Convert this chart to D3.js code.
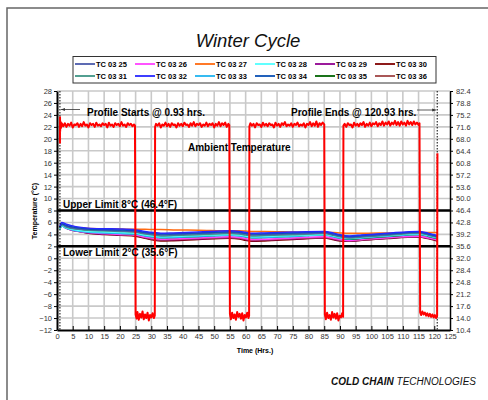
<!DOCTYPE html>
<html><head><meta charset="utf-8">
<script src="https://cdn.jsdelivr.net/npm/d3@7"></script>
<style>html,body{margin:0;padding:0;background:#fff;}svg{display:block;font-family:"Liberation Sans",Arial,sans-serif;}</style>
</head><body><svg id="c" width="488" height="400"></svg>
<script>
// ---------- data ----------
const xTicks = [0,5,10,15,20,25,30,35,40,45,50,55,60,65,70,75,80,85,90,95,100,105,110,115,120,125];
const cTicks = [-12,-10,-8,-6,-4,-2,0,2,4,6,8,10,12,14,16,18,20,22,24,26,28];
const fTickLabels = ["10.4","14.0","17.6","21.2","24.8","28.4","32.0","35.6","39.2","42.8","46.4","50.0","53.6","57.2","60.8","64.4","68.0","71.6","75.2","78.8","82.4"];
const seriesNames = ["TC 03 25","TC 03 26","TC 03 27","TC 03 28","TC 03 29","TC 03 30","TC 03 31","TC 03 32","TC 03 33","TC 03 34","TC 03 35","TC 03 36"];
const seriesColors = ["#4b5bab","#ff40ff","#ff6a10","#50ffff","#900090","#800000","#3f9585","#2828ff","#20b4f0","#0a50b4","#006400","#a04545"];
const probeTimes = [0.93,1.5,3,6,10,15,20,25,28,31,33,37,45,55,58,60,62,66,75,85,88,90,93,97,105,115,118,121];
const tc25 = [5.1,5.7,5.35,5.0,4.8,4.7,4.6,4.45,4.2,4.0,3.9,3.95,4.1,4.3,4.2,4.05,3.9,3.95,4.1,4.25,3.95,3.7,3.5,3.65,3.95,4.3,4.0,3.6];
const tc26 = [5.1,5.5,5.0,4.6,4.3,4.15,4.0,3.9,3.55,3.3,3.2,3.25,3.4,3.6,3.5,3.3,3.15,3.2,3.4,3.6,3.35,3.15,3.0,3.15,3.45,3.7,3.45,3.1];
const tc27 = [5.0,5.4,5.3,5.1,5.0,4.95,4.9,4.85,4.85,4.8,4.8,4.75,4.7,4.6,4.6,4.55,4.5,4.5,4.4,4.3,4.3,4.25,4.2,4.2,4.25,4.3,4.3,4.3];
const tc28 = [4.9,5.5,5.1,4.75,4.5,4.4,4.3,4.2,3.9,3.7,3.6,3.65,3.8,4.0,3.9,3.75,3.6,3.65,3.8,4.0,3.75,3.5,3.35,3.5,3.8,4.1,3.85,3.45];
const tc29 = [5.2,5.5,5.0,4.55,4.25,4.05,3.95,3.8,3.45,3.15,3.05,3.1,3.25,3.45,3.35,3.15,3.0,3.05,3.25,3.45,3.2,3.0,2.9,3.05,3.35,3.6,3.35,3.0];
const tc30 = [5.3,5.6,5.05,4.6,4.2,4.0,3.85,3.7,3.35,3.0,2.9,2.95,3.15,3.35,3.25,3.0,2.85,2.9,3.15,3.4,3.1,2.9,2.85,3.0,3.3,3.55,3.3,2.9];
const tc31 = [5.0,5.6,5.2,4.9,4.7,4.6,4.5,4.35,4.05,3.85,3.75,3.8,3.95,4.15,4.05,3.9,3.75,3.8,3.95,4.15,3.85,3.6,3.4,3.55,3.85,4.2,3.9,3.5];
const tc32 = [5.4,6.0,5.7,5.3,5.05,4.95,4.9,4.75,4.5,4.3,4.2,4.25,4.4,4.6,4.5,4.35,4.2,4.25,4.4,4.5,4.2,3.95,3.75,3.9,4.2,4.5,4.2,3.8];
const tc33 = [4.8,5.4,5.0,4.6,4.35,4.25,4.15,4.05,3.75,3.55,3.45,3.5,3.65,3.85,3.75,3.6,3.45,3.5,3.65,3.9,3.6,3.4,3.25,3.4,3.7,4.0,3.75,3.35];
const tc34 = [5.2,5.8,5.5,5.15,4.9,4.8,4.75,4.6,4.35,4.15,4.05,4.1,4.25,4.45,4.35,4.2,4.05,4.1,4.25,4.4,4.1,3.85,3.65,3.8,4.1,4.4,4.1,3.7];
const tc35 = [5.0,5.5,5.1,4.75,4.5,4.35,4.2,4.1,3.8,3.55,3.45,3.5,3.65,3.9,3.8,3.6,3.45,3.5,3.7,3.95,3.65,3.4,3.2,3.35,3.65,4.0,3.7,3.3];
const tc36 = [5.3,5.6,5.1,4.7,4.35,4.15,4.0,3.85,3.5,3.2,3.1,3.15,3.3,3.5,3.4,3.2,3.05,3.1,3.3,3.5,3.25,3.05,2.95,3.1,3.4,3.65,3.4,3.05];
const probeValues = [tc25,tc26,tc27,tc28,tc29,tc30,tc31,tc32,tc33,tc34,tc35,tc36];
// drawing order (bottom to top)
const drawOrder = [2,5,4,11,1,10,8,3,6,0,9,7];
// ambient temperature [hours, degC]
const ambient = [
[0.93,19.2],[0.96,23.6],[1.0,21.2],[1.1,22.9],[1.25,21.8],[1.5,22.6],
[2,22.1],[2.5,22.6],[3,22.0],[3.5,22.5],[4,22.2],[4.5,22.7],[5,21.9],[5.5,22.4],[6,22.3],[6.5,22.6],
[7,22.0],[7.5,22.5],[8,22.1],[8.5,22.8],[9,22.2],[9.5,22.4],[10,21.9],[10.5,22.6],[11,22.3],[11.5,22.5],
[12,22.0],[12.5,22.7],[13,22.2],[13.5,22.4],[14,22.1],[14.5,22.6],[15,22.3],[15.5,22.5],[16,21.9],[16.5,22.7],
[17,22.2],[17.5,22.4],[18,22.0],[18.5,22.6],[19,22.3],[19.5,22.5],[20,22.1],[20.5,22.8],[21,22.2],[21.5,22.4],
[22,22.0],[22.5,22.6],[23,22.3],[23.5,22.5],[24,22.1],[24.5,22.4],[24.8,22.2],
[25.0,-9.4],[25.3,-10.1],[25.6,-9.0],[26.0,-10.3],[26.4,-9.3],[26.8,-9.9],[27.2,-8.9],[27.6,-10.2],[28.0,-9.4],[28.4,-10.0],
[28.8,-9.1],[29.2,-10.4],[29.6,-9.5],[30.0,-9.9],[30.4,-9.2],[30.8,-10.0],[31.1,-9.6],
[31.2,22.0],[31.5,22.5],[32,22.2],[32.5,22.6],[33,21.9],[33.5,22.4],[34,22.2],[34.5,22.7],[35,22.1],[35.5,22.5],
[36,22.0],[36.5,22.6],[37,22.3],[37.5,22.4],[38,21.9],[38.5,22.6],[39,22.2],[39.5,22.5],[40,22.1],[40.5,22.7],
[41,22.3],[41.5,22.4],[42,22.0],[42.5,22.6],[43,22.2],[43.5,22.8],[44,22.1],[44.5,22.5],[45,22.3],[45.5,22.6],
[46,22.0],[46.5,22.4],[47,22.2],[47.5,22.7],[48,22.1],[48.5,22.5],[49,22.3],[49.5,22.6],[50,21.9],[50.5,22.5],
[51,22.2],[51.5,22.8],[52,22.1],[52.5,22.6],[53,22.3],[53.5,22.7],[54,22.0],[54.5,22.5],[54.8,22.3],
[55.0,-9.3],[55.3,-10.2],[55.7,-9.1],[56.1,-10.0],[56.5,-9.4],[56.9,-10.3],[57.3,-9.0],[57.7,-9.8],[58.1,-9.3],[58.5,-10.1],
[58.9,-9.2],[59.3,-10.4],[59.7,-9.5],[60.1,-9.9],[60.5,-9.1],[60.9,-10.0],[61.1,-9.6],
[61.2,22.1],[61.5,22.6],[62,22.2],[62.5,22.5],[63,21.9],[63.5,22.6],[64,22.3],[64.5,22.4],[65,22.0],[65.5,22.7],
[66,22.2],[66.5,22.5],[67,22.1],[67.5,22.6],[68,22.3],[68.5,22.4],[69,21.9],[69.5,22.7],[70,22.2],[70.5,22.5],
[71,22.0],[71.5,22.6],[72,22.3],[72.5,22.8],[73,22.1],[73.5,22.4],[74,22.2],[74.5,22.6],[75,22.0],[75.5,22.5],
[76,22.3],[76.5,22.7],[77,22.1],[77.5,22.4],[78,22.2],[78.5,22.6],[79,21.9],[79.5,22.5],[80,22.3],[80.5,22.8],
[81,22.1],[81.5,22.6],[82,22.2],[82.5,22.9],[83,22.0],[83.5,22.6],[84,22.3],[84.5,22.7],[85.0,22.4],
[85.2,-9.4],[85.5,-10.2],[85.9,-9.1],[86.3,-10.0],[86.7,-9.5],[87.1,-10.3],[87.5,-9.0],[87.9,-9.9],[88.3,-9.3],[88.7,-10.1],
[89.1,-9.2],[89.5,-10.4],[89.9,-9.6],[90.3,-9.9],[90.7,-9.2],[91.0,-9.8],
[91.1,22.2],[91.5,22.5],[92,22.0],[92.5,22.6],[93,22.3],[93.5,22.4],[94,21.9],[94.5,22.7],[95,22.2],[95.5,22.5],
[96,22.1],[96.5,22.6],[97,22.3],[97.5,22.8],[98,22.0],[98.5,22.5],[99,22.2],[99.5,22.7],[100,22.1],[100.5,22.6],
[101,22.4],[101.5,22.8],[102,22.1],[102.5,22.6],[103,22.3],[103.5,22.9],[104,22.2],[104.5,22.7],[105,22.4],[105.5,22.9],
[106,22.2],[106.5,22.7],[107,22.4],[107.5,23.0],[108,22.3],[108.5,22.8],[109,22.2],[109.5,22.9],[110,22.4],[110.5,22.7],
[111,22.2],[111.5,23.0],[112,22.4],[112.5,22.8],[113,22.3],[113.5,22.9],[114,22.4],[114.5,22.7],[115,22.3],[115.3,22.6],
[115.5,-9.0],[115.8,-9.5],[116.2,-8.9],[116.6,-9.4],[117.0,-9.1],[117.4,-9.6],[117.8,-9.2],[118.2,-9.7],[118.6,-9.3],[119.0,-9.8],
[119.4,-9.4],[119.8,-9.9],[120.2,-9.5],[120.6,-10.0],[120.9,-9.6],[121.0,17.6]
];
const profileStart = 0.93, profileEnd = 120.93;
const upperLimit = 8, lowerLimit = 2;

// ---------- chart ----------
const svg = d3.select("#c");
const x = d3.scaleLinear().domain([0,125]).range([57,450]);
const y = d3.scaleLinear().domain([-12,28]).range([330,91]);

// outer frame
svg.append("path").attr("d","M7,400 L7,8 L488,8").attr("fill","none").attr("stroke","#666").attr("stroke-width",1.5);

// title
svg.append("text").attr("x",248).attr("y",47).attr("text-anchor","middle")
  .attr("font-size",18.5).attr("font-style","italic").attr("fill","#111").text("Winter Cycle");

// legend
const lg = svg.append("g");
lg.append("rect").attr("x",73).attr("y",56.5).attr("width",363).attr("height",26.5)
  .attr("fill","#fff").attr("stroke","#333").attr("stroke-width",1);
seriesNames.forEach((n,i)=>{
  const col = i%6, row = Math.floor(i/6);
  const tx = 96 + col*60, ty = 64 + row*12;
  lg.append("line").attr("x1",tx-21).attr("x2",tx-1).attr("y1",ty).attr("y2",ty)
    .attr("stroke",seriesColors[i]).attr("stroke-width",1.8);
  lg.append("text").attr("x",tx).attr("y",ty+2.6).attr("font-size",7.5).attr("font-weight","bold")
    .attr("fill","#000").text(n);
});

// grid
const grid = svg.append("g").attr("stroke","#c9c9c9").attr("stroke-width",1.6);
xTicks.filter(t=>t>0&&t<125).forEach(t=>{
  grid.append("line").attr("x1",x(t)).attr("x2",x(t)).attr("y1",y(28)).attr("y2",y(-12));
});
cTicks.filter(t=>t>-12).forEach(t=>{
  grid.append("line").attr("x1",x(0)).attr("x2",x(125)).attr("y1",y(t)).attr("y2",y(t));
});

// limit lines
[upperLimit, lowerLimit].forEach(v=>{
  svg.append("line").attr("x1",x(0)).attr("x2",x(125)).attr("y1",y(v)).attr("y2",y(v))
    .attr("stroke","#000").attr("stroke-width",2.5);
});

// probe lines
const line = d3.line().x(d=>x(d[0])).y(d=>y(d[1])).curve(d3.curveMonotoneX);
drawOrder.forEach(i=>{
  const pts = probeTimes.map((t,k)=>[t, probeValues[i][k]]);
  svg.append("path").datum(pts).attr("d",line).attr("fill","none")
    .attr("stroke",seriesColors[i]).attr("stroke-width",1.5);
});

// profile markers
[profileStart, profileEnd].forEach(t=>{
  svg.append("line").attr("x1",x(t)).attr("x2",x(t)).attr("y1",y(28)).attr("y2",y(-12))
    .attr("stroke","#000").attr("stroke-width",1).attr("stroke-dasharray","1.5,1.5");
});

// ambient
const aline = d3.line().x(d=>x(d[0])).y(d=>y(d[1]));
svg.append("path").datum(ambient).attr("d",aline).attr("fill","none")
  .attr("stroke","#ff0000").attr("stroke-width",2).attr("stroke-linejoin","round");

// axes
const axL = svg.append("g").attr("transform",`translate(${x(0)},0)`)
  .call(d3.axisLeft(y).tickValues(cTicks).tickSizeInner(3).tickSizeOuter(0).tickPadding(2).tickFormat(d3.format("d")));
const axB = svg.append("g").attr("transform",`translate(0,${y(-12)})`)
  .call(d3.axisBottom(x).tickValues(xTicks).tickSizeInner(-4).tickSizeOuter(0).tickPadding(4).tickFormat(d3.format("d")));
const axR = svg.append("g").attr("transform",`translate(${x(125)},0)`)
  .call(d3.axisRight(y).tickValues(cTicks).tickSizeInner(3).tickSizeOuter(0).tickPadding(3)
    .tickFormat((d,i)=>fTickLabels[i]));
[axL,axB,axR].forEach(a=>{
  a.selectAll("text").attr("font-size",7.5).attr("fill","#333").attr("font-family","'Liberation Sans',Arial,sans-serif");
  a.selectAll(".tick line").attr("stroke","#000");
});
axL.select(".domain").attr("stroke","#000").attr("stroke-width",2);
axB.select(".domain").attr("stroke","#000").attr("stroke-width",2);
axR.select(".domain").attr("stroke","#000").attr("stroke-width",1.5);
axB.selectAll(".tick").filter(d=>d===0||d===125).select("line").remove();

// axis titles
svg.append("text").attr("transform","translate(37,211) rotate(-90)").attr("text-anchor","middle")
  .attr("font-size",7).attr("font-weight","bold").text("Temperature (°C)");
svg.append("text").attr("x",255).attr("y",352.5).attr("text-anchor","middle")
  .attr("font-size",7).attr("font-weight","bold").text("Time (Hrs.)");

// annotations
const ann = svg.append("g").attr("font-weight","bold").attr("font-size",10).attr("fill","#000");
ann.append("text").attr("x",87).attr("y",115.5).text("Profile Starts @ 0.93 hrs.");
ann.append("text").attr("x",291).attr("y",115.5).text("Profile Ends @ 120.93 hrs.");
ann.append("text").attr("x",188).attr("y",150.5).text("Ambient Temperature");
ann.append("text").attr("x",63).attr("y",207.5).text("Upper Limit 8°C (46.4°F)");
ann.append("text").attr("x",63).attr("y",256).text("Lower Limit 2°C (35.6°F)");
// arrows
svg.append("defs").append("marker").attr("id","ah").attr("viewBox","0 0 6 6").attr("refX",6).attr("refY",3)
  .attr("markerWidth",5).attr("markerHeight",5).attr("orient","auto")
  .append("path").attr("d","M0,0.8 L6,3 L0,5.2 Z").attr("fill","#333");
svg.append("line").attr("x1",80).attr("x2",x(profileStart)+1).attr("y1",109.5).attr("y2",109.5)
  .attr("stroke","#333").attr("stroke-width",0.8).attr("marker-end","url(#ah)");
svg.append("line").attr("x1",417).attr("x2",x(profileEnd)-1).attr("y1",110).attr("y2",110)
  .attr("stroke","#333").attr("stroke-width",0.8).attr("marker-end","url(#ah)");

// footer
const ft = svg.append("text").attr("x",476).attr("y",385).attr("text-anchor","end")
  .attr("font-size",10).attr("font-style","italic").attr("fill","#111");
ft.append("tspan").attr("font-weight","bold").text("COLD CHAIN ");
ft.append("tspan").text("TECHNOLOGIES");
</script></body></html>
